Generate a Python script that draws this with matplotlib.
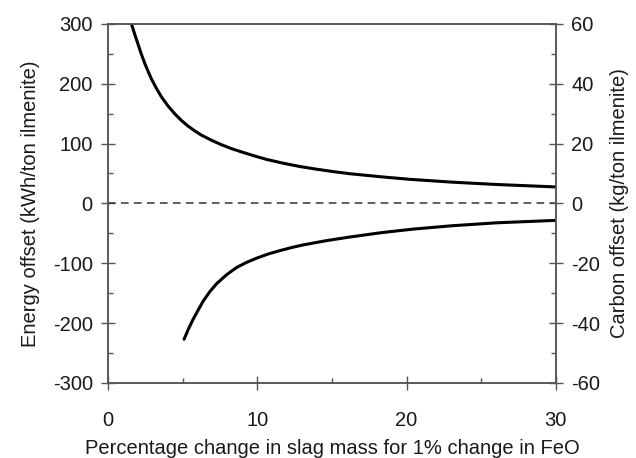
import matplotlib
matplotlib.use("Agg")
import matplotlib.pyplot as plt
from matplotlib.ticker import MultipleLocator

plt.rcParams['font.family'] = ['Liberation Sans', 'DejaVu Sans']
plt.rcParams['axes.unicode_minus'] = False

# Upper curve (energy offset, kWh/ton ilmenite)
upper_x = [1.56, 1.79, 2.01, 2.23, 2.46, 2.68, 2.90, 3.24, 3.57, 4.02, 4.47, 4.91,
           5.36, 5.81, 6.25, 6.92, 7.59, 8.26, 8.93, 9.77, 10.6, 11.74, 12.86,
           13.98, 15.1, 16.2, 18.44, 20.3, 23.0, 26.03, 29.94]
upper_y = [300, 282, 265.5, 249, 233.5, 220.5, 208, 192, 178, 162.5, 149.5, 138.5,
           129, 121, 114, 105.5, 98, 91.5, 86, 79.5, 73.5, 67, 61.5,
           57, 53, 49.5, 44, 40, 35.5, 31.5, 27.5]

# Lower curve (energy offset, kWh/ton ilmenite)
lower_x = [5.09, 5.38, 5.71, 6.05, 6.38, 6.83, 7.28, 7.95, 8.62, 9.29, 9.96, 10.74,
           11.52, 12.3, 13.08, 14.65, 16.1, 18.3, 20.45, 23.0, 26.03, 29.94]
lower_y = [-227, -210, -193, -177.5, -163, -147, -134, -119, -107, -98.5, -91.5, -84.5,
           -78.9, -73.8, -69.4, -62.2, -56.6, -49, -43, -37.5, -32.5, -28.5]

x_ticks = [0, 10, 20, 30]
left_ticks = [-300, -200, -100, 0, 100, 200, 300]
right_ticks = [-60, -40, -20, 0, 20, 40, 60]

fig = plt.figure(figsize=(6.36, 4.58), dpi=100)
ax = fig.add_axes([0.170, 0.164, 0.704, 0.784])

spine_col = '#555555'
text_col = '#1a1a1a'
FS = 14.5
ax.plot(upper_x, upper_y, color='black', lw=2.2, solid_capstyle='round',
        solid_joinstyle='round')
ax.plot(lower_x, lower_y, color='black', lw=2.2, solid_capstyle='round',
        solid_joinstyle='round')
ax.axhline(0, color='#333333', lw=1.1, ls=(0, (5, 3.5)))

ax.set_xlim(0, 30)
ax.set_ylim(-300, 300)
ax.set_xticks(x_ticks)
ax.set_yticks(left_ticks)
ax.xaxis.set_minor_locator(MultipleLocator(5))
ax.yaxis.set_minor_locator(MultipleLocator(50))
ax.tick_params(which='major', direction='inout', length=10, width=1, color=spine_col,
               labelsize=FS, pad=6, labelcolor=text_col)
ax.tick_params(which='minor', direction='in', length=3.6, width=1, color=spine_col)
ax.tick_params(axis='x', pad=15)
for s in ax.spines.values():
    s.set_color(spine_col)
    s.set_linewidth(1.1)

ax.set_xlabel('Percentage change in slag mass for 1% change in FeO', fontsize=FS,
              labelpad=7, color=text_col)
ax.set_ylabel('Energy offset (kWh/ton ilmenite)', fontsize=FS, labelpad=9,
              color=text_col)

ax2 = ax.twinx()
ax2.set_ylim(-60, 60)
ax2.set_yticks(right_ticks)
ax2.yaxis.set_minor_locator(MultipleLocator(10))
ax2.tick_params(which='major', direction='inout', length=10, width=1, color=spine_col,
                labelsize=FS, pad=6, labelcolor=text_col)
ax2.tick_params(which='minor', direction='in', length=3.6, width=1, color=spine_col)
for s in ax2.spines.values():
    s.set_color(spine_col)
    s.set_linewidth(1.1)
ax2.set_ylabel('Carbon offset (kg/ton ilmenite)', fontsize=FS, labelpad=7,
               color=text_col)

fig.savefig('out.png', dpi=100)
